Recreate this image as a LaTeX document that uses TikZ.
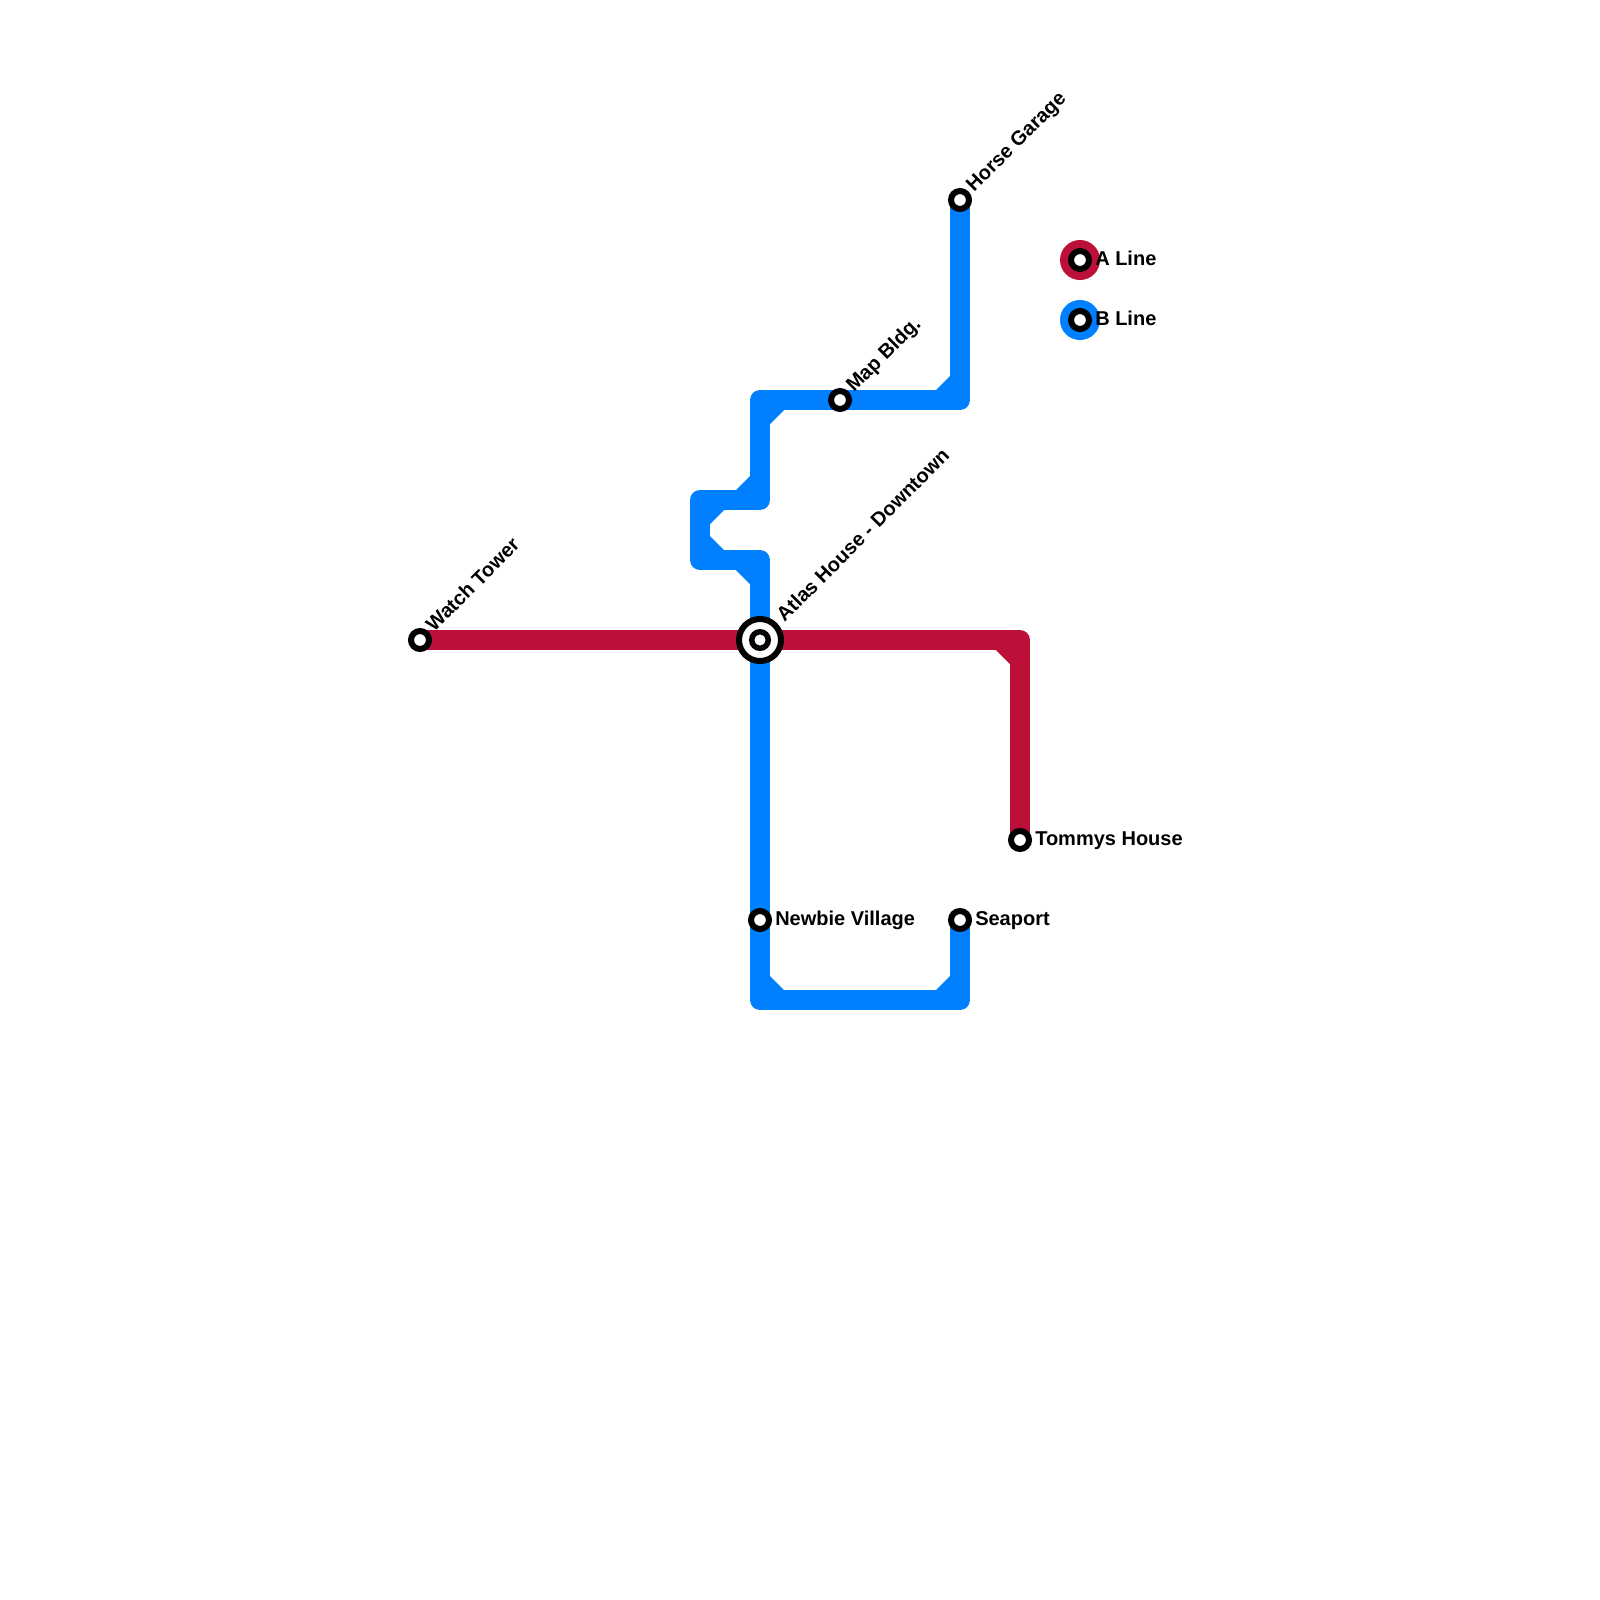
\documentclass[tikz,border=0pt]{standalone}
\usepackage{fontspec}
\setmainfont{Liberation Sans}
\definecolor{lineA}{HTML}{BD1038}
\definecolor{lineB}{HTML}{0080FF}
\tikzset{
    track/.style={line width=15pt, line join=round},
    stop/.style={circle, draw=black, fill=white, line width=4.5pt, minimum size=13.5pt, inner sep=0pt},
    hub/.style={circle, draw=black, fill=white, line width=4.5pt, minimum size=31.5pt, inner sep=0pt},
    hubdot/.style={circle, draw=black, fill=white, line width=4.1pt, minimum size=12.4pt, inner sep=0pt},
    swatch/.style={circle, minimum size=30pt, inner sep=0pt},
    stoplabel/.style={anchor=base west, font=\bfseries\fontsize{15pt}{18pt}\selectfont, inner sep=0pt, text=black},
}
\begin{document}
\begin{tikzpicture}[x=0.75pt, y=-0.75pt]
        \useasboundingbox (0,0) rectangle (1600,1600);

        \coordinate (watch) at (420,640);
        \coordinate (atlas) at (760,640);
        \coordinate (bendA) at (1020,640);
        \coordinate (tommys) at (1020,840);

        \coordinate (horse) at (960,200);
        \coordinate (bendB) at (960,400);
        \coordinate (bendC) at (760,400);
        \coordinate (bendD) at (760,500);
        \coordinate (bendE) at (700,500);
        \coordinate (bendF) at (700,560);
        \coordinate (bendG) at (760,560);
        \coordinate (bendH) at (760,1000);
        \coordinate (bendI) at (960,1000);
        \coordinate (seaport) at (960,920);
        \coordinate (map) at (840,400);
        \coordinate (newbie) at (760,920);

        \draw[track, lineB] (horse) -- (bendB) -- (map) -- (bendC) -- (bendD) -- (bendE) -- (bendF) -- (bendG) -- (atlas) -- (newbie) -- (bendH) -- (bendI) -- (seaport);
        \draw[track, lineA] (watch) -- (atlas) -- (bendA) -- (tommys);

        \fill[lineB] (950,376) -- (950,390) -- (936,390) -- cycle;
        \fill[lineB] (770,410) -- (784,410) -- (770,424) -- cycle;
        \fill[lineB] (750,476) -- (750,490) -- (736,490) -- cycle;
        \fill[lineB] (710,510) -- (724,510) -- (710,524) -- cycle;
        \fill[lineB] (710,550) -- (724,550) -- (710,536) -- cycle;
        \fill[lineB] (750,570) -- (736,570) -- (750,584) -- cycle;
        \fill[lineB] (770,990) -- (784,990) -- (770,976) -- cycle;
        \fill[lineB] (950,990) -- (936,990) -- (950,976) -- cycle;
        \fill[lineA] (1010,650) -- (996,650) -- (1010,664) -- cycle;

        \node[swatch, fill=lineA] (swatchA) at (1080,260) {};
        \node[swatch, fill=lineB] (swatchB) at (1080,320) {};

        \node[stop] (stopwatch) at (watch) {};
        \node[stop] (stoptommys) at (tommys) {};
        \node[stop] (stophorse) at (horse) {};
        \node[stop] (stopmap) at (map) {};
        \node[stop] (stopnewbie) at (newbie) {};
        \node[stop] (stopseaport) at (seaport) {};
        \node[stop] (stopA) at (swatchA) {};
        \node[stop] (stopB) at (swatchB) {};
        \node[hub] (hubatlas) at (atlas) {};
        \node[hubdot] (stopatlas) at (atlas) {};

        \node[stoplabel] (labelnewbie) at (775,925) {Newbie Village};
        \node[stoplabel] (labelseaport) at (975,925) {Seaport};
        \node[stoplabel] (labeltommys) at (1035,845) {Tommys House};
        \node[stoplabel] (labelA) at (1095,265) {A Line};
        \node[stoplabel] (labelB) at (1095,325) {B Line};
        \node[stoplabel, rotate=45] (labelwatch) at (434,633) {Watch Tower};
        \node[stoplabel, rotate=45] (labelatlas) at (784.5,623) {Atlas House - Downtown};
        \node[stoplabel, rotate=45] (labelmap) at (854,393) {Map Bldg.};
        \node[stoplabel, rotate=45] (labelhorse) at (974,193) {Horse Garage};
\end{tikzpicture}
\end{document}
